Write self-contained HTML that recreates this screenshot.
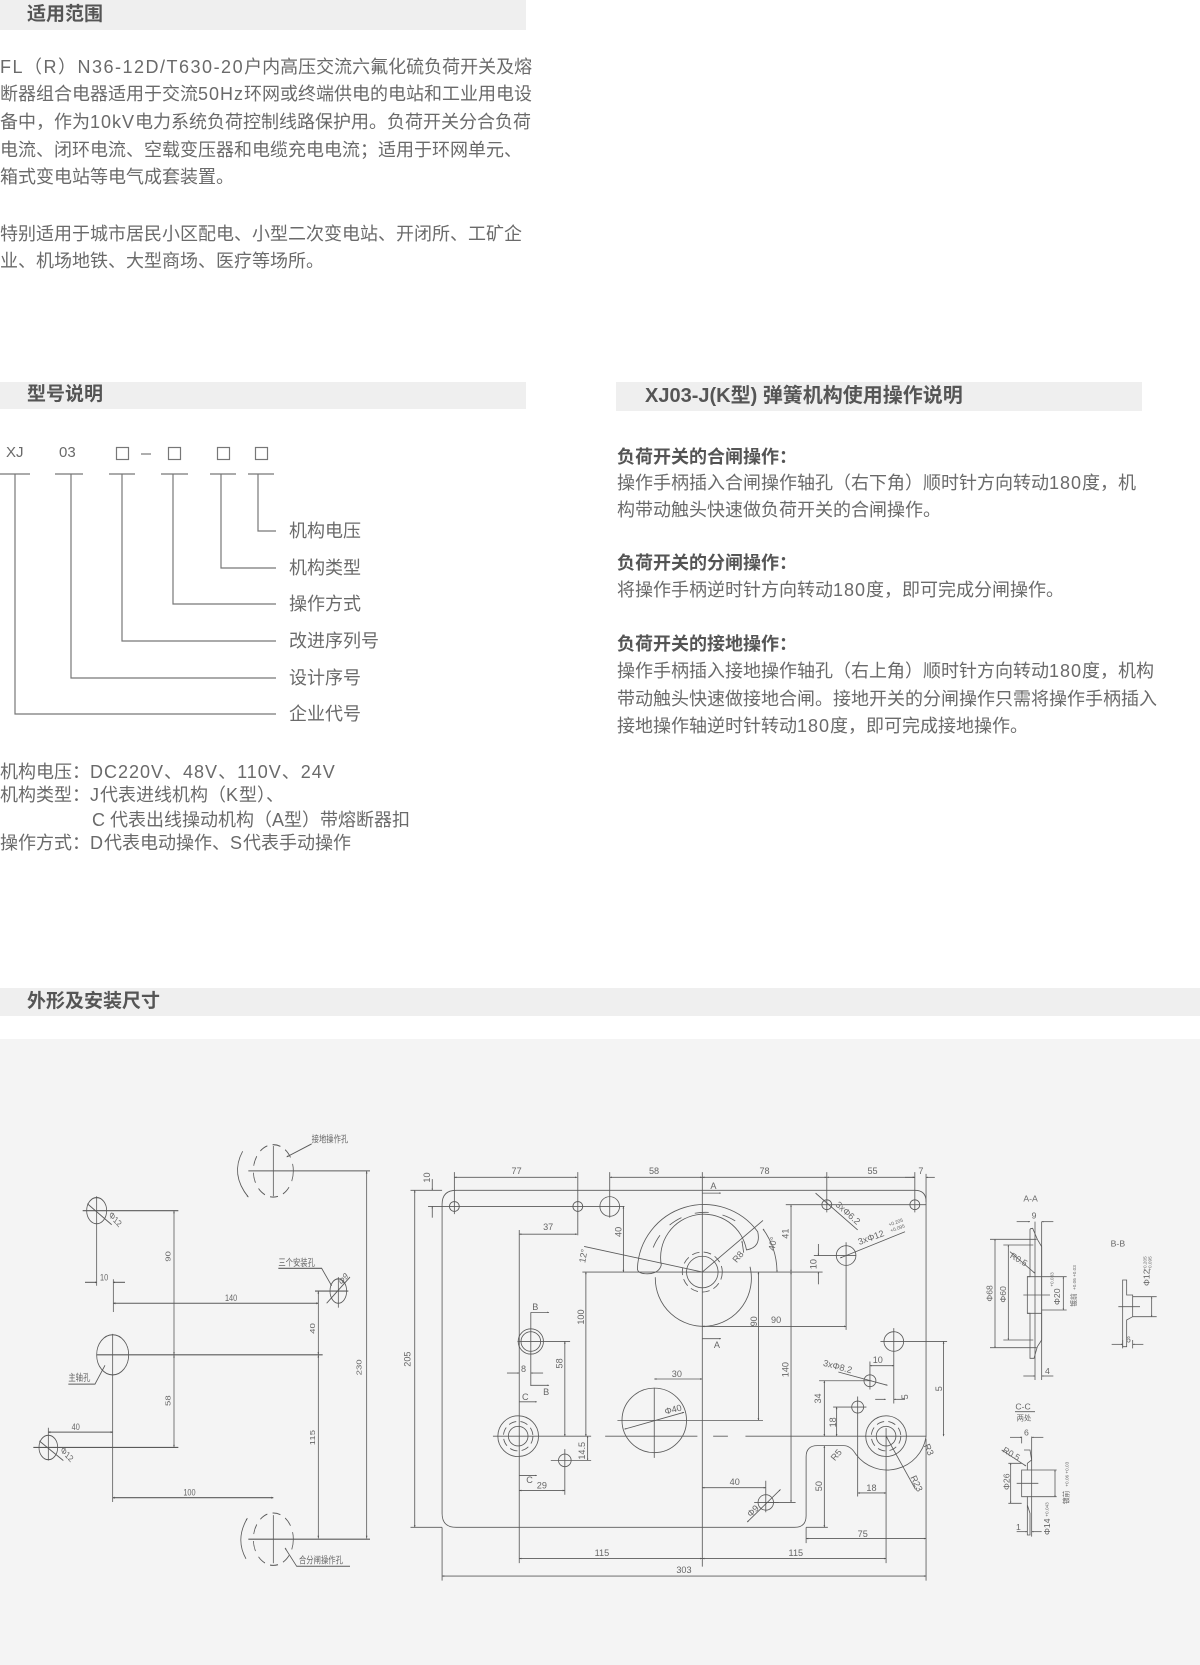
<!DOCTYPE html>
<html><head><meta charset="utf-8">
<style>
html,body{margin:0;padding:0;background:#fff;}
body{width:1200px;height:1665px;position:relative;overflow:hidden;font-family:"Liberation Sans","Noto Sans CJK SC",sans-serif;color:#666;}
.t{position:absolute;white-space:nowrap;font-size:18px;line-height:20px;color:#6a6a6a;}
.l{letter-spacing:1px;}
.b{font-weight:bold;color:#555;}
.bar{position:absolute;background:#efefef;}
.h{position:absolute;white-space:nowrap;font-size:19px;font-weight:bold;color:#555;line-height:24px;}
svg{position:absolute;left:0;top:0;}
</style></head><body>
<div class="bar" style="left:0;top:0;width:526px;height:30px"></div>
<div class="h" style="left:27px;top:3px">适用范围</div>
<div class="bar" style="left:0;top:382px;width:526px;height:27px"></div>
<div class="h" style="left:27px;top:383px">型号说明</div>
<div class="bar" style="left:616px;top:382px;width:526px;height:29px"></div>
<div class="h" style="left:645px;top:384px;font-size:20px">XJ03-J(K型) 弹簧机构使用操作说明</div>
<div class="bar" style="left:0;top:988px;width:1200px;height:28px"></div>
<div class="h" style="left:27px;top:990px">外形及安装尺寸</div>
<div style="position:absolute;left:0;top:1039px;width:1200px;height:626px;background:#f4f4f4"></div>

<div class="t" style="left:0;top:57px"><span style="letter-spacing:1.5px">FL（R）N36-12D/T630-20</span>户内高压交流六氟化硫负荷开关及熔</div>
<div class="t" style="left:0;top:84px">断器组合电器适用于交流<span class="l">50Hz</span>环网或终端供电的电站和工业用电设</div>
<div class="t" style="left:0;top:112px">备中，作为<span class="l">10kV</span>电力系统负荷控制线路保护用。负荷开关分合负荷</div>
<div class="t" style="left:0;top:140px">电流、闭环电流、空载变压器和电缆充电电流；适用于环网单元、</div>
<div class="t" style="left:0;top:167px">箱式变电站等电气成套装置。</div>
<div class="t" style="left:0;top:224px">特别适用于城市居民小区配电、小型二次变电站、开闭所、工矿企</div>
<div class="t" style="left:0;top:251px">业、机场地铁、大型商场、医疗等场所。</div>

<div class="t" style="left:6px;top:443px;font-size:15px">XJ</div>
<div class="t" style="left:59px;top:443px;font-size:15px">03</div>
<div class="t" style="left:289px;top:521px">机构电压</div>
<div class="t" style="left:289px;top:558px">机构类型</div>
<div class="t" style="left:289px;top:594px">操作方式</div>
<div class="t" style="left:289px;top:631px">改进序列号</div>
<div class="t" style="left:289px;top:668px">设计序号</div>
<div class="t" style="left:289px;top:704px">企业代号</div>
<div class="t" style="left:0;top:762px">机构电压：<span class="l">DC220V、48V、110V、24V</span></div>
<div class="t" style="left:0;top:785px">机构类型：<span class="l">J</span>代表进线机构（<span class="l">K</span>型）、</div>
<div class="t" style="left:92px;top:810px">C 代表出线操动机构（A型）带熔断器扣</div>
<div class="t" style="left:0;top:833px">操作方式：<span class="l">D</span>代表电动操作、<span class="l">S</span>代表手动操作</div>

<div class="t b" style="left:617px;top:447px">负荷开关的合闸操作：</div>
<div class="t" style="left:617px;top:473px">操作手柄插入合闸操作轴孔（右下角）顺时针方向转动<span class="l">180</span>度，机</div>
<div class="t" style="left:617px;top:500px">构带动触头快速做负荷开关的合闸操作。</div>
<div class="t b" style="left:617px;top:553px">负荷开关的分闸操作：</div>
<div class="t" style="left:617px;top:580px">将操作手柄逆时针方向转动<span class="l">180</span>度，即可完成分闸操作。</div>
<div class="t b" style="left:617px;top:634px">负荷开关的接地操作：</div>
<div class="t" style="left:617px;top:661px">操作手柄插入接地操作轴孔（右上角）顺时针方向转动<span class="l">180</span>度，机构</div>
<div class="t" style="left:617px;top:689px">带动触头快速做接地合闸。接地开关的分闸操作只需将操作手柄插入</div>
<div class="t" style="left:617px;top:716px">接地操作轴逆时针转动<span class="l">180</span>度，即可完成接地操作。</div>

<svg width="1200" height="1665" viewBox="0 0 1200 1665" font-family="Liberation Sans, Noto Sans CJK SC, sans-serif">
<defs>
<marker id="a" viewBox="0 0 10 10" refX="10" refY="5" markerWidth="10" markerHeight="6" markerUnits="userSpaceOnUse" orient="auto-start-reverse"><path d="M0,1 L10,5 L0,9 z" fill="#555"/></marker>
<marker id="s" viewBox="0 0 10 10" refX="10" refY="5" markerWidth="7" markerHeight="5" markerUnits="userSpaceOnUse" orient="auto-start-reverse"><path d="M0,1 L10,5 L0,9 z" fill="#555"/></marker>
</defs>
<g stroke="#777" stroke-width="1.2" fill="none">
<rect x="116.5" y="447.5" width="12" height="12"/><rect x="168.5" y="447.5" width="12" height="12"/>
<rect x="217.5" y="447.5" width="12" height="12"/><rect x="255.5" y="447.5" width="12" height="12"/>
<line x1="141" y1="454" x2="151" y2="454"/>
<path d="M0,474H30M55,474H83M109,474H135M161,474H188M210,474H236M248,474H274"/>
<path d="M258,474V531H276M221,474V568H276M173,474V604H276M122,474V641H276M71,474V678H276M15,474V714H276"/>
</g>

<g transform="translate(0 980) scale(0.33333 0.43687)" stroke="#5a5a5a" stroke-width="2.4" fill="none">
<circle cx="820" cy="437" r="60" stroke-dasharray="24 16"/>
<path d="M745,437H880M820,380V495"/>
<path d="M728,392 Q690,445 745,497" marker-end="url(#s)"/>
<path d="M860,405 L935,375" marker-start="url(#s)"/>
<path d="M880,437H1110M880,1280H1110"/>
<line x1="1100" y1="437" x2="1100" y2="1278" marker-start="url(#a)" marker-end="url(#a)"/>
<circle cx="820" cy="1280" r="60" stroke-dasharray="24 16"/>
<path d="M745,1280H880M820,1225V1335"/>
<path d="M738,1325 Q705,1280 742,1232" marker-end="url(#s)"/>
<path d="M1050,1342H890L855,1300" marker-end="url(#s)"/>
<line x1="955" y1="858" x2="955" y2="1278" marker-start="url(#a)" marker-end="url(#a)"/>
<line x1="955" y1="712" x2="955" y2="858" marker-start="url(#a)" marker-end="url(#a)"/>
<ellipse cx="290" cy="528" rx="30" ry="30"/>
<path d="M248,528H535M290,495V700"/>
<line x1="262" y1="512" x2="335" y2="560"/>
<path d="M340,685V760"/>
<line x1="255" y1="692" x2="290" y2="692" marker-end="url(#s)"/>
<line x1="375" y1="692" x2="340" y2="692" marker-end="url(#s)"/>
<line x1="340" y1="740" x2="955" y2="740" marker-start="url(#a)" marker-end="url(#a)"/>
<ellipse cx="338" cy="858" rx="48" ry="46"/>
<path d="M338,810V1195M290,858H968M945,712H1045"/>
<path d="M205,925H285L315,882"/>
<line x1="522" y1="528" x2="522" y2="858" marker-start="url(#a)" marker-end="url(#a)"/>
<line x1="522" y1="858" x2="522" y2="1070" marker-start="url(#a)" marker-end="url(#a)"/>
<path d="M100,1070H535M145,1025V1100"/>
<ellipse cx="145" cy="1070" rx="28" ry="28"/>
<line x1="118" y1="1055" x2="190" y2="1100"/>
<line x1="145" y1="1035" x2="338" y2="1035" marker-start="url(#a)" marker-end="url(#a)"/>
<ellipse cx="1015" cy="712" rx="25" ry="28"/>
<path d="M1015,680V750"/>
<path d="M835,660H965L995,700" marker-end="url(#s)"/>
<line x1="980" y1="740" x2="1050" y2="680"/>
<line x1="338" y1="1185" x2="820" y2="1185" marker-start="url(#a)" marker-end="url(#a)"/>
<g fill="#666" stroke="none" font-size="22">
<text x="935" y="372">接地操作孔</text>
<text x="897" y="1336">合分闸操作孔</text>
<text x="835" y="655">三个安装孔</text>
<text x="205" y="918">主轴孔</text>
<text x="300" y="688">10</text>
<text x="675" y="735">140</text>
<text x="215" y="1030">40</text>
<text x="550" y="1180">100</text>
<text transform="translate(1085,905) rotate(-90)">230</text>
<text transform="translate(945,1065) rotate(-90)">115</text>
<text transform="translate(945,810) rotate(-90)">40</text>
<text transform="translate(512,645) rotate(-90)">90</text>
<text transform="translate(512,975) rotate(-90)">58</text>
<text transform="translate(325,540) rotate(40)">Φ12</text>
<text transform="translate(180,1078) rotate(40)">Φ12</text>
<text transform="translate(1025,700) rotate(-45)">Φ9</text>
</g>
</g>

<g transform="translate(400 1130) scale(0.3507)" stroke="#5a5a5a" stroke-width="2.4" fill="none">
<path d="M160,172 H1468 Q1500,172 1500,204 V875 A112,112 0 0 1 1300,925 Q1285,900 1265,900 H1190 Q1158,900 1158,932 V1100 Q1158,1133 1125,1133 H160 Q120,1133 120,1093 V212 Q120,172 160,172 Z"/>
<path d="M30,172H120M30,1133H120M1158,1133H1220M80,218H640M1100,213H1500"/>
<line x1="42" y1="172" x2="42" y2="1133" marker-start="url(#a)" marker-end="url(#a)"/>
<line x1="92" y1="140" x2="92" y2="172" marker-end="url(#s)"/>
<line x1="92" y1="250" x2="92" y2="218" marker-end="url(#s)"/>
<circle cx="155" cy="218" r="14"/><circle cx="507" cy="218" r="14"/><circle cx="1217" cy="213" r="14"/><circle cx="1468" cy="213" r="14"/>
<circle cx="598" cy="218" r="28"/>
<path d="M155,120V240M507,120V300M598,120V250M1217,120V235M1468,120V235M1500,125V205M862,120V1245"/>
<line x1="155" y1="135" x2="505" y2="135" marker-start="url(#a)" marker-end="url(#a)"/>
<line x1="598" y1="135" x2="862" y2="135" marker-start="url(#a)" marker-end="url(#a)"/>
<line x1="862" y1="135" x2="1217" y2="135" marker-start="url(#a)" marker-end="url(#a)"/>
<line x1="1217" y1="135" x2="1468" y2="135" marker-start="url(#a)" marker-end="url(#a)"/>
<line x1="1440" y1="135" x2="1468" y2="135" marker-end="url(#s)"/>
<line x1="1525" y1="135" x2="1500" y2="135" marker-end="url(#s)"/>
<line x1="862" y1="180" x2="915" y2="180" marker-end="url(#s)"/>
<line x1="862" y1="595" x2="915" y2="595" marker-end="url(#s)"/>
<circle cx="862" cy="405" r="45"/>
<circle cx="862" cy="405" r="57" stroke-dasharray="22 12"/>
<path d="M728,420 A137,137 0 1 0 998,390"/>
<path d="M677,395 A190,190 0 0 1 1020,290 Q1030,335 988,342 A120,120 0 0 0 745,385 Q738,410 705,410 Q677,410 677,395 Z"/>
<path d="M722,335 A160,160 0 0 1 960,262" stroke-dasharray="40 40"/>
<path d="M520,405H1205"/>
<line x1="862" y1="405" x2="1035" y2="258"/>
<line x1="980" y1="350" x2="975" y2="316" marker-end="url(#s)"/>
<path d="M1075,405 A213,213 0 0 0 1035,282" marker-start="url(#s)" marker-end="url(#s)"/>
<line x1="862" y1="405" x2="525" y2="332"/>
<line x1="637" y1="218" x2="637" y2="405" marker-start="url(#a)" marker-end="url(#a)"/>
<line x1="340" y1="297" x2="505" y2="297" marker-start="url(#a)" marker-end="url(#a)"/>
<line x1="1115" y1="213" x2="1115" y2="405" marker-start="url(#a)" marker-end="url(#a)"/>
<circle cx="1272" cy="358" r="28"/>
<path d="M1180,358H1300M1272,320V570"/>
<line x1="1193" y1="325" x2="1193" y2="358" marker-end="url(#s)"/>
<line x1="1193" y1="440" x2="1193" y2="405" marker-end="url(#s)"/>
<line x1="1440" y1="290" x2="1255" y2="365" marker-end="url(#s)"/>
<line x1="1185" y1="180" x2="1305" y2="285"/>
<line x1="862" y1="560" x2="1272" y2="560" marker-start="url(#a)" marker-end="url(#a)"/>
<line x1="1022" y1="405" x2="1022" y2="828" marker-start="url(#a)" marker-end="url(#a)"/>
<line x1="1115" y1="405" x2="1115" y2="1062" marker-start="url(#a)" marker-end="url(#a)"/>
<path d="M1040,1062H1128"/>
<line x1="530" y1="405" x2="530" y2="873" marker-start="url(#a)" marker-end="url(#a)"/>
<circle cx="373" cy="603" r="36"/><circle cx="373" cy="603" r="28"/>
<path d="M335,603H485M373,520V730"/>
<line x1="373" y1="520" x2="425" y2="520" marker-end="url(#s)"/>
<line x1="373" y1="728" x2="425" y2="728" marker-end="url(#s)"/>
<line x1="470" y1="603" x2="470" y2="873" marker-start="url(#a)" marker-end="url(#a)"/>
<line x1="305" y1="693" x2="340" y2="693" marker-end="url(#s)"/>
<line x1="408" y1="693" x2="373" y2="693" marker-end="url(#s)"/>
<path d="M340,285V1235"/>
<line x1="340" y1="775" x2="390" y2="775" marker-end="url(#s)"/>
<line x1="340" y1="985" x2="390" y2="985" marker-end="url(#s)"/>
<circle cx="337" cy="873" r="58"/><circle cx="337" cy="873" r="28"/>
<circle cx="337" cy="873" r="42" stroke-dasharray="22 12"/>
<path d="M265,873H545M585,873H848M893,873H935M985,873H1500"/>
<line x1="535" y1="873" x2="535" y2="942" marker-start="url(#s)" marker-end="url(#s)"/>
<circle cx="470" cy="942" r="18"/>
<path d="M430,942H545M470,910V1040"/>
<line x1="340" y1="1028" x2="470" y2="1028" marker-start="url(#a)" marker-end="url(#a)"/>
<circle cx="725" cy="828" r="92"/>
<path d="M620,828H1035M725,735V935"/>
<line x1="640" y1="853" x2="810" y2="805" marker-start="url(#s)" marker-end="url(#s)"/>
<line x1="725" y1="710" x2="862" y2="710" marker-start="url(#a)" marker-end="url(#a)"/>
<circle cx="1408" cy="603" r="28"/>
<path d="M1370,603H1560M1408,565V780"/>
<line x1="1550" y1="603" x2="1550" y2="873" marker-start="url(#a)" marker-end="url(#a)"/>
<circle cx="1340" cy="715" r="17"/><circle cx="1305" cy="790" r="17"/>
<line x1="1250" y1="690" x2="1390" y2="728" marker-end="url(#s)"/>
<path d="M1340,660V740M1305,760V1045M1195,715H1345M1235,790H1330"/>
<line x1="1340" y1="672" x2="1408" y2="672" marker-start="url(#s)" marker-end="url(#s)"/>
<line x1="1355" y1="768" x2="1385" y2="768" marker-end="url(#s)"/>
<line x1="1440" y1="768" x2="1408" y2="768" marker-end="url(#s)"/>
<line x1="1210" y1="715" x2="1210" y2="873" marker-start="url(#a)" marker-end="url(#a)"/>
<line x1="1245" y1="790" x2="1245" y2="873" marker-start="url(#a)" marker-end="url(#a)"/>
<circle cx="1386" cy="873" r="58"/><circle cx="1386" cy="873" r="28"/>
<circle cx="1386" cy="873" r="42" stroke-dasharray="22 12"/>
<path d="M1386,850V1235"/>
<line x1="1386" y1="873" x2="1470" y2="1025" marker-start="url(#s)"/>
<line x1="1305" y1="1035" x2="1386" y2="1035" marker-start="url(#a)" marker-end="url(#a)"/>
<line x1="862" y1="1020" x2="1043" y2="1020" marker-start="url(#a)" marker-end="url(#a)"/>
<circle cx="1043" cy="1062" r="22"/>
<path d="M1043,1000V1090M1010,1062H1080"/>
<line x1="990" y1="1118" x2="1085" y2="1025" marker-start="url(#s)" marker-end="url(#s)"/>
<line x1="1210" y1="900" x2="1210" y2="1133" marker-start="url(#a)" marker-end="url(#a)"/>
<line x1="1158" y1="1165" x2="1500" y2="1165" marker-start="url(#a)" marker-end="url(#a)"/>
<path d="M1158,1133V1178M1500,880V1285M120,1133V1285"/>
<line x1="340" y1="1222" x2="862" y2="1222" marker-start="url(#a)" marker-end="url(#a)"/>
<line x1="862" y1="1222" x2="1386" y2="1222" marker-start="url(#a)" marker-end="url(#a)"/>
<line x1="120" y1="1272" x2="1500" y2="1272" marker-start="url(#a)" marker-end="url(#a)"/>
<g fill="#666" stroke="none" font-size="26">
<text x="318" y="125">77</text><text x="710" y="125">58</text><text x="1025" y="125">78</text><text x="1333" y="125">55</text><text x="1478" y="125">7</text>
<text x="885" y="168">A</text><text x="895" y="622">A</text>
<text x="408" y="285">37</text>
<text x="1058" y="550">90</text>
<text x="775" y="705">30</text>
<text x="345" y="690">8</text>
<text x="377" y="514">B</text><text x="408" y="755">B</text>
<text x="348" y="770">C</text><text x="360" y="1007">C</text>
<text x="390" y="1022">29</text>
<text x="940" y="1012">40</text>
<text x="1348" y="665">10</text>
<text x="1330" y="1030">18</text>
<text x="1305" y="1160">75</text>
<text x="555" y="1215">115</text><text x="1108" y="1215">115</text>
<text x="788" y="1263">303</text>
<text transform="translate(30,675) rotate(-90)">205</text>
<text transform="translate(85,150) rotate(-90)">10</text>
<text transform="translate(632,305) rotate(-90)">40</text>
<text transform="translate(1108,310) rotate(-90)">41</text>
<text transform="translate(1188,397) rotate(-90)">10</text>
<text transform="translate(1018,560) rotate(-90)">90</text>
<text transform="translate(1108,705) rotate(-90)">140</text>
<text transform="translate(525,555) rotate(-90)">100</text>
<text transform="translate(463,680) rotate(-90)">58</text>
<text transform="translate(528,940) rotate(-90)">14.5</text>
<text transform="translate(1200,780) rotate(-90)">34</text>
<text transform="translate(1243,848) rotate(-90)">18</text>
<text transform="translate(1203,1030) rotate(-90)">50</text>
<text transform="translate(1545,745) rotate(-90)">5</text>
<text transform="translate(1448,768) rotate(-90)">5</text>
<text transform="translate(528,380) rotate(-80)">12°</text>
<text transform="translate(960,380) rotate(-50)">R8</text>
<text transform="translate(1068,345) rotate(-80)">40°</text>
<text transform="translate(757,812) rotate(-15)">Φ40</text>
<text transform="translate(1240,215) rotate(42)">3xΦ6.2</text>
<text transform="translate(1310,328) rotate(-20)">3xΦ12</text>
<text transform="translate(1395,275) rotate(-20)" font-size="14">+0.205</text>
<text transform="translate(1400,292) rotate(-20)" font-size="14">+0.095</text>
<text transform="translate(1205,672) rotate(15)">3xΦ8.2</text>
<text transform="translate(1240,945) rotate(-50)">R5</text>
<text transform="translate(1455,990) rotate(65)">R23</text>
<text transform="translate(1493,900) rotate(65)">R3</text>
<text transform="translate(1000,1105) rotate(-45)">Φ9</text>
</g>
</g>

<g transform="translate(950 1180) scale(0.33333)" stroke="#5a5a5a" stroke-width="2.4" fill="none">
<path d="M240,148 Q242,145 248,145 L262,178 L275,200 L275,480 L262,500 L252,535 L240,535 L240,400 L232,400 L232,290 L240,290 Z"/>
<path d="M255,180V290M255,400V500M232,290H275M232,400H275M220,345H300M255,125V600M275,125V600"/>
<line x1="200" y1="125" x2="240" y2="125" marker-end="url(#s)"/>
<line x1="310" y1="125" x2="275" y2="125" marker-end="url(#s)"/>
<line x1="220" y1="588" x2="255" y2="588" marker-end="url(#s)"/>
<line x1="310" y1="588" x2="275" y2="588" marker-end="url(#s)"/>
<path d="M120,178H260M120,503H260M160,195H250M160,480H250M275,290H350M275,390H350"/>
<line x1="135" y1="178" x2="135" y2="503" marker-start="url(#s)" marker-end="url(#s)"/>
<line x1="175" y1="195" x2="175" y2="480" marker-start="url(#s)" marker-end="url(#s)"/>
<line x1="340" y1="290" x2="340" y2="390" marker-start="url(#s)" marker-end="url(#s)"/>
<line x1="180" y1="215" x2="255" y2="280" marker-end="url(#s)"/>
<path d="M518,300L530,300L530,345L548,345L548,410L530,420L530,500L518,500Z"/>
<path d="M505,380H570M548,350H620M548,410H620M518,480V505M548,480V505"/>
<line x1="605" y1="350" x2="605" y2="410" marker-start="url(#s)" marker-end="url(#s)"/>
<line x1="485" y1="493" x2="518" y2="493" marker-end="url(#s)"/>
<line x1="580" y1="493" x2="548" y2="493" marker-end="url(#s)"/>
<path d="M195,695H255"/>
<path d="M222,810L240,810L245,840L232,850L232,870L215,870L215,950L232,950L232,975L240,1000L240,1065L232,1065L232,975"/>
<path d="M200,910H265M232,870H320M232,950H320M215,770V790M245,770V1070M175,850H215M175,970H215"/>
<line x1="182" y1="850" x2="182" y2="970" marker-start="url(#s)" marker-end="url(#s)"/>
<line x1="315" y1="870" x2="315" y2="950" marker-start="url(#s)" marker-end="url(#s)"/>
<line x1="180" y1="772" x2="215" y2="772" marker-end="url(#s)"/>
<line x1="280" y1="772" x2="245" y2="772" marker-end="url(#s)"/>
<line x1="200" y1="1055" x2="232" y2="1055" marker-end="url(#s)"/>
<line x1="275" y1="1055" x2="245" y2="1055" marker-end="url(#s)"/>
<line x1="155" y1="810" x2="228" y2="858" marker-end="url(#s)"/>
<g fill="#666" stroke="none" font-size="26">
<text x="220" y="65">A-A</text>
<text x="245" y="115">9</text>
<text x="285" y="582">4</text>
<text x="482" y="200">B-B</text>
<text x="528" y="487">6</text>
<text x="196" y="688">C-C</text>
<text x="200" y="722" font-size="22">两处</text>
<text x="222" y="767">6</text>
<text x="198" y="1050">1</text>
<text transform="translate(128,365) rotate(-90)">Φ68</text>
<text transform="translate(168,368) rotate(-90)">Φ60</text>
<text transform="translate(330,375) rotate(-90)">Φ20</text>
<text transform="translate(310,320) rotate(-90)" font-size="14">+0.033</text>
<text transform="translate(378,380) rotate(-90)" font-size="20">镀前</text>
<text transform="translate(378,330) rotate(-90)" font-size="14">+0.06 +0.03</text>
<text transform="translate(178,232) rotate(30)">R0.5</text>
<text transform="translate(598,318) rotate(-90)">Φ12</text>
<text transform="translate(590,272) rotate(-90)" font-size="14">+0.205</text>
<text transform="translate(605,272) rotate(-90)" font-size="14">+0.095</text>
<text transform="translate(178,930) rotate(-90)">Φ26</text>
<text transform="translate(156,815) rotate(30)">R0.5</text>
<text transform="translate(355,972) rotate(-90)" font-size="20">镀前</text>
<text transform="translate(355,920) rotate(-90)" font-size="14">+0.06 +0.03</text>
<text transform="translate(300,1065) rotate(-90)">Φ14</text>
<text transform="translate(295,1010) rotate(-90)" font-size="14">+0.043</text>
</g>
</g>
</svg>
</body></html>
